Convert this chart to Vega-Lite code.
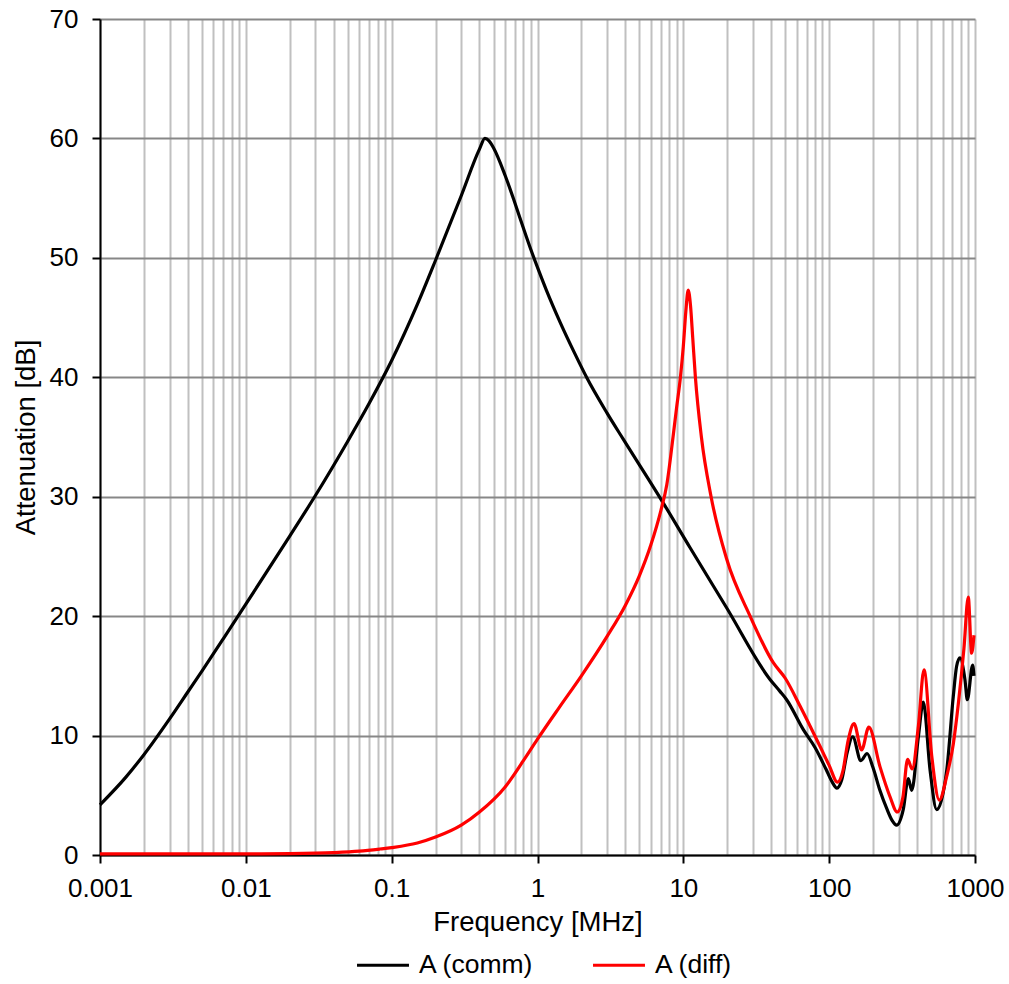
{
  "$schema": "https://vega.github.io/schema/vega-lite/v6.json",
  "width": 875,
  "height": 836,
  "autosize": {"type": "none"},
  "padding": {"left": 100, "top": 19, "right": 34, "bottom": 129},
  "background": "white",
  "config": {
    "view": {"stroke": null},
    "font": "Liberation Sans",
    "axis": {
      "labelFont": "Liberation Sans",
      "titleFont": "Liberation Sans",
      "labelFontSize": 26,
      "titleFontSize": 27.5,
      "titleFontWeight": "normal",
      "labelColor": "#000000",
      "titleColor": "#000000",
      "domainColor": "#000000",
      "domainWidth": 2,
      "tickColor": "#000000",
      "tickWidth": 2,
      "tickSize": 8,
      "labelOverlap": false,
      "labelFlush": false
    },
    "legend": {
      "labelFont": "Liberation Sans",
      "labelFontSize": 26.5,
      "labelColor": "#000000"
    }
  },
  "data": {
    "values": [
      {"f": 0.001, "a": 4.2, "s": "A (comm)"},
      {"f": 0.0015, "a": 6.5, "s": "A (comm)"},
      {"f": 0.002, "a": 8.4, "s": "A (comm)"},
      {"f": 0.003, "a": 11.4, "s": "A (comm)"},
      {"f": 0.004, "a": 13.65, "s": "A (comm)"},
      {"f": 0.005, "a": 15.4, "s": "A (comm)"},
      {"f": 0.007, "a": 18.1, "s": "A (comm)"},
      {"f": 0.01, "a": 21.0, "s": "A (comm)"},
      {"f": 0.02, "a": 26.7, "s": "A (comm)"},
      {"f": 0.03, "a": 30.1, "s": "A (comm)"},
      {"f": 0.05, "a": 34.65, "s": "A (comm)"},
      {"f": 0.07, "a": 37.8, "s": "A (comm)"},
      {"f": 0.1, "a": 41.4, "s": "A (comm)"},
      {"f": 0.15, "a": 46.1, "s": "A (comm)"},
      {"f": 0.2, "a": 49.8, "s": "A (comm)"},
      {"f": 0.3, "a": 55.2, "s": "A (comm)"},
      {"f": 0.4, "a": 59.1, "s": "A (comm)"},
      {"f": 0.436, "a": 60.0, "s": "A (comm)"},
      {"f": 0.465, "a": 59.8, "s": "A (comm)"},
      {"f": 0.5, "a": 59.2, "s": "A (comm)"},
      {"f": 0.6, "a": 56.9, "s": "A (comm)"},
      {"f": 0.7, "a": 54.6, "s": "A (comm)"},
      {"f": 0.8, "a": 52.5, "s": "A (comm)"},
      {"f": 0.9, "a": 50.7, "s": "A (comm)"},
      {"f": 1.0, "a": 49.2, "s": "A (comm)"},
      {"f": 1.15, "a": 47.3, "s": "A (comm)"},
      {"f": 1.43, "a": 44.6, "s": "A (comm)"},
      {"f": 1.8, "a": 42.0, "s": "A (comm)"},
      {"f": 2.17, "a": 40.0, "s": "A (comm)"},
      {"f": 3.0, "a": 37.0, "s": "A (comm)"},
      {"f": 3.88, "a": 34.8, "s": "A (comm)"},
      {"f": 7.1, "a": 29.7, "s": "A (comm)"},
      {"f": 11.1, "a": 25.75, "s": "A (comm)"},
      {"f": 19.8, "a": 20.7, "s": "A (comm)"},
      {"f": 39.3, "a": 14.7, "s": "A (comm)"},
      {"f": 46, "a": 13.7, "s": "A (comm)"},
      {"f": 51.1, "a": 13.0, "s": "A (comm)"},
      {"f": 66.5, "a": 10.5, "s": "A (comm)"},
      {"f": 80, "a": 9.0, "s": "A (comm)"},
      {"f": 95, "a": 7.2, "s": "A (comm)"},
      {"f": 105, "a": 6.1, "s": "A (comm)"},
      {"f": 113, "a": 5.6, "s": "A (comm)"},
      {"f": 122, "a": 6.3, "s": "A (comm)"},
      {"f": 133, "a": 8.6, "s": "A (comm)"},
      {"f": 145, "a": 9.9, "s": "A (comm)"},
      {"f": 165, "a": 7.9, "s": "A (comm)"},
      {"f": 182, "a": 8.5, "s": "A (comm)"},
      {"f": 200, "a": 7.3, "s": "A (comm)"},
      {"f": 223, "a": 5.4, "s": "A (comm)"},
      {"f": 248, "a": 3.9, "s": "A (comm)"},
      {"f": 270, "a": 2.9, "s": "A (comm)"},
      {"f": 290, "a": 2.5, "s": "A (comm)"},
      {"f": 322, "a": 3.8, "s": "A (comm)"},
      {"f": 349, "a": 6.4, "s": "A (comm)"},
      {"f": 368, "a": 5.4, "s": "A (comm)"},
      {"f": 409, "a": 9.9, "s": "A (comm)"},
      {"f": 442, "a": 12.8, "s": "A (comm)"},
      {"f": 492, "a": 7.1, "s": "A (comm)"},
      {"f": 546, "a": 3.8, "s": "A (comm)"},
      {"f": 640, "a": 7.1, "s": "A (comm)"},
      {"f": 710, "a": 13.3, "s": "A (comm)"},
      {"f": 748, "a": 15.8, "s": "A (comm)"},
      {"f": 788, "a": 16.5, "s": "A (comm)"},
      {"f": 853, "a": 14.7, "s": "A (comm)"},
      {"f": 886, "a": 13.0, "s": "A (comm)"},
      {"f": 963, "a": 15.9, "s": "A (comm)"},
      {"f": 984, "a": 15.0, "s": "A (comm)"},

      {"f": 0.001, "a": 0.1, "s": "A (diff)"},
      {"f": 0.01, "a": 0.1, "s": "A (diff)"},
      {"f": 0.02, "a": 0.12, "s": "A (diff)"},
      {"f": 0.04, "a": 0.2, "s": "A (diff)"},
      {"f": 0.06, "a": 0.32, "s": "A (diff)"},
      {"f": 0.083, "a": 0.5, "s": "A (diff)"},
      {"f": 0.1, "a": 0.62, "s": "A (diff)"},
      {"f": 0.15, "a": 1.0, "s": "A (diff)"},
      {"f": 0.2, "a": 1.5, "s": "A (diff)"},
      {"f": 0.3, "a": 2.5, "s": "A (diff)"},
      {"f": 0.4, "a": 3.6, "s": "A (diff)"},
      {"f": 0.6, "a": 5.7, "s": "A (diff)"},
      {"f": 0.8, "a": 7.9, "s": "A (diff)"},
      {"f": 1.0, "a": 9.7, "s": "A (diff)"},
      {"f": 1.4, "a": 12.3, "s": "A (diff)"},
      {"f": 2.0, "a": 15.0, "s": "A (diff)"},
      {"f": 3.0, "a": 18.3, "s": "A (diff)"},
      {"f": 4.0, "a": 20.9, "s": "A (diff)"},
      {"f": 5.0, "a": 23.4, "s": "A (diff)"},
      {"f": 6.0, "a": 26.0, "s": "A (diff)"},
      {"f": 7.0, "a": 28.8, "s": "A (diff)"},
      {"f": 7.7, "a": 31.0, "s": "A (diff)"},
      {"f": 8.5, "a": 35.0, "s": "A (diff)"},
      {"f": 9.0, "a": 37.5, "s": "A (diff)"},
      {"f": 9.55, "a": 40.0, "s": "A (diff)"},
      {"f": 10.0, "a": 42.6, "s": "A (diff)"},
      {"f": 10.4, "a": 45.5, "s": "A (diff)"},
      {"f": 10.8, "a": 47.3, "s": "A (diff)"},
      {"f": 11.2, "a": 46.0, "s": "A (diff)"},
      {"f": 11.6, "a": 43.3, "s": "A (diff)"},
      {"f": 12.1, "a": 40.0, "s": "A (diff)"},
      {"f": 13.3, "a": 35.0, "s": "A (diff)"},
      {"f": 15.5, "a": 30.0, "s": "A (diff)"},
      {"f": 19.8, "a": 24.8, "s": "A (diff)"},
      {"f": 28.7, "a": 20.0, "s": "A (diff)"},
      {"f": 41.4, "a": 16.1, "s": "A (diff)"},
      {"f": 50, "a": 14.8, "s": "A (diff)"},
      {"f": 63, "a": 12.5, "s": "A (diff)"},
      {"f": 86.5, "a": 9.1, "s": "A (diff)"},
      {"f": 100, "a": 7.5, "s": "A (diff)"},
      {"f": 114, "a": 6.1, "s": "A (diff)"},
      {"f": 124, "a": 7.0, "s": "A (diff)"},
      {"f": 135, "a": 9.6, "s": "A (diff)"},
      {"f": 148, "a": 11.0, "s": "A (diff)"},
      {"f": 167, "a": 8.8, "s": "A (diff)"},
      {"f": 187, "a": 10.7, "s": "A (diff)"},
      {"f": 223, "a": 7.4, "s": "A (diff)"},
      {"f": 261, "a": 4.9, "s": "A (diff)"},
      {"f": 293, "a": 3.6, "s": "A (diff)"},
      {"f": 320, "a": 4.8, "s": "A (diff)"},
      {"f": 345, "a": 8.0, "s": "A (diff)"},
      {"f": 371, "a": 7.2, "s": "A (diff)"},
      {"f": 409, "a": 10.8, "s": "A (diff)"},
      {"f": 447, "a": 15.5, "s": "A (diff)"},
      {"f": 505, "a": 8.3, "s": "A (diff)"},
      {"f": 569, "a": 4.6, "s": "A (diff)"},
      {"f": 640, "a": 6.6, "s": "A (diff)"},
      {"f": 710, "a": 9.3, "s": "A (diff)"},
      {"f": 769, "a": 12.7, "s": "A (diff)"},
      {"f": 840, "a": 17.3, "s": "A (diff)"},
      {"f": 899, "a": 21.6, "s": "A (diff)"},
      {"f": 948, "a": 16.9, "s": "A (diff)"},
      {"f": 984, "a": 18.4, "s": "A (diff)"}
    ]
  },
  "mark": {"type": "line", "strokeWidth": 3.2, "interpolate": "monotone", "clip": false},
  "encoding": {
    "x": {
      "field": "f",
      "type": "quantitative",
      "scale": {"type": "log", "domain": [0.001, 1000], "nice": false},
      "axis": {
        "title": "Frequency [MHz]",
        "values": [0.001,0.002,0.003,0.004,0.005,0.006,0.007,0.008,0.009,
                   0.01,0.02,0.03,0.04,0.05,0.06,0.07,0.08,0.09,
                   0.1,0.2,0.3,0.4,0.5,0.6,0.7,0.8,0.9,
                   1,2,3,4,5,6,7,8,9,
                   10,20,30,40,50,60,70,80,90,
                   100,200,300,400,500,600,700,800,900,1000],
        "grid": true,
        "gridColor": "#c0c0c0",
        "gridWidth": 2,
        "tickOpacity": {"condition": {"test": "abs(log(datum.value)/LN10 - round(log(datum.value)/LN10)) < 0.000001", "value": 1}, "value": 0},
        "labelExpr": "abs(log(datum.value)/LN10 - round(log(datum.value)/LN10)) < 0.000001 ? format(datum.value, '~g') : ''",
        "labelPadding": 12,
        "titlePadding": 7
      }
    },
    "y": {
      "field": "a",
      "type": "quantitative",
      "scale": {"domain": [0, 70], "nice": false},
      "axis": {
        "title": "Attenuation [dB]",
        "values": [0, 10, 20, 30, 40, 50, 60, 70],
        "grid": true,
        "gridColor": "#878787",
        "gridWidth": 2,
        "labelPadding": 14,
        "titlePadding": 9
      }
    },
    "color": {
      "field": "s",
      "type": "nominal",
      "scale": {"domain": ["A (comm)", "A (diff)"], "range": ["#000000", "#ff0000"]},
      "legend": {
        "title": null,
        "orient": "none",
        "direction": "horizontal",
        "legendX": 255,
        "legendY": 918,
        "symbolType": "stroke",
        "symbolSize": 2700,
        "symbolStrokeWidth": 3.2,
        "labelOffset": 8,
        "columnPadding": 52,
        "padding": 0
      }
    }
  }
}
